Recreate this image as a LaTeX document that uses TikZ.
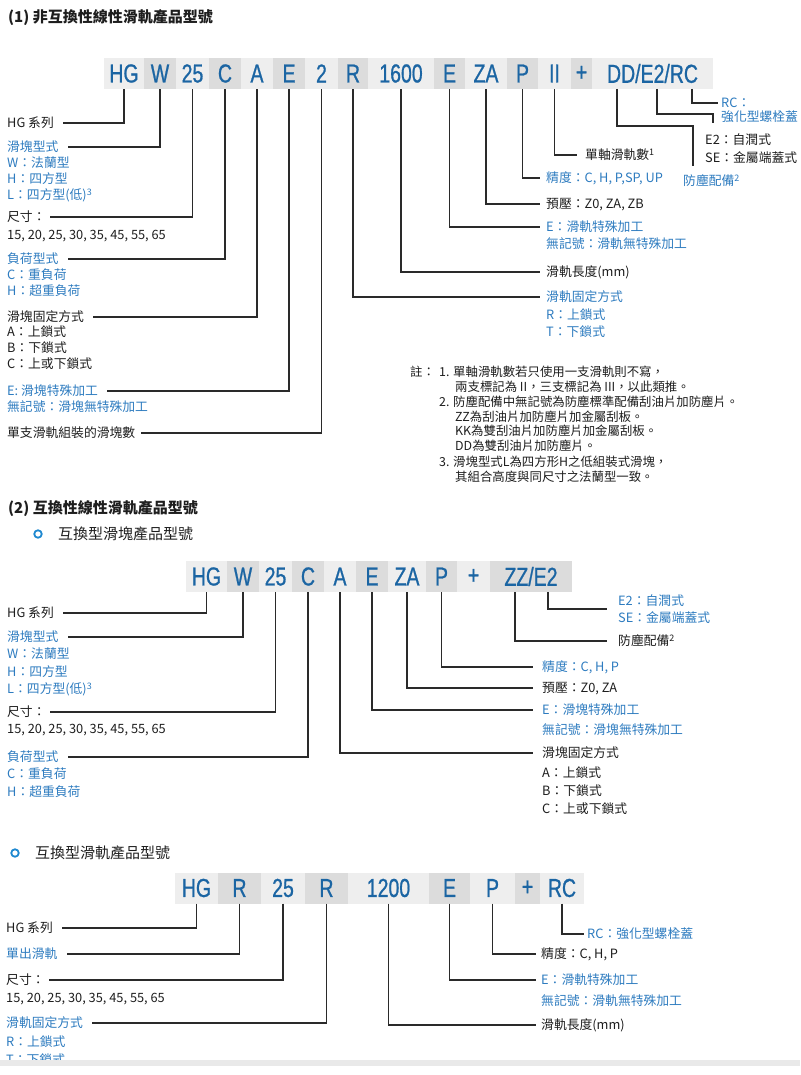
\documentclass[tikz,border=0pt]{standalone}
\usepackage{fontspec}
\setmainfont{Noto Sans CJK TC}
\newfontfamily\boxfont{Liberation Sans}[FakeStretch=0.75, FakeBold=0.8]
\usetikzlibrary{calc}
\definecolor{boxblue}{HTML}{1B65A3}
\definecolor{lblue}{HTML}{2E7CC0}
\definecolor{txtk}{HTML}{1E1E1E}
\definecolor{linec}{HTML}{2A2A2A}
\definecolor{lightg}{HTML}{EEEEEE}
\definecolor{darkg}{HTML}{DCDCDC}
\definecolor{bandg}{HTML}{E9E9E9}
\definecolor{ringblue}{HTML}{1E88D0}
\tikzset{
  lab/.style={anchor=west, inner sep=0pt, text=txtk, font=\fontsize{12.8}{14}\selectfont, text height=10.6pt, text depth=1.3pt},
  blab/.style={lab, text=lblue},
  notel/.style={anchor=west, inner sep=0pt, text=txtk, font=\fontsize{12.4}{14}\selectfont, text height=10.3pt, text depth=1.3pt},
  cellbase/.style={inner sep=0pt, minimum height=31pt, text=boxblue, font=\boxfont\fontsize{26}{26}\selectfont},
  lcell/.style={cellbase, fill=lightg},
  dcell/.style={cellbase, fill=darkg},
  conn/.style={draw=linec, line width=1.2pt},
  ttl/.style={anchor=west, inner sep=0pt, text=txtk, font=\bfseries\fontsize{15}{17}\selectfont},
  subttl/.style={anchor=west, inner sep=0pt, text=txtk, font=\fontsize{15}{17}\selectfont},
  ring/.style={draw=ringblue, line width=1.8pt, circle, minimum size=7.5pt, inner sep=0pt},
}
\begin{document}
\begin{tikzpicture}[x=1pt,y=-1pt]
\useasboundingbox (0,0) rectangle (800,1075);
\fill[white] (0,0) rectangle (800,1075);

% ================= Section 1 =================
\node[ttl] (t1) at (8,18) {(1) 非互換性線性滑軌產品型號};

\node[lcell, minimum width=40pt] (s1hg) at (124,73.5) {HG};
\node[dcell, minimum width=32pt] (s1w) at (160,73.5) {W};
\node[lcell, minimum width=33pt] (s1sz) at (192.5,73.5) {25};
\node[dcell, minimum width=32pt] (s1c) at (225,73.5) {C};
\node[lcell, minimum width=32pt] (s1a) at (257,73.5) {A};
\node[dcell, minimum width=32pt] (s1e) at (289,73.5) {E};
\node[lcell, minimum width=33pt] (s1n) at (321.5,73.5) {2};
\node[dcell, minimum width=30pt] (s1r) at (353,73.5) {R};
\node[lcell, minimum width=66pt] (s1len) at (401,73.5) {1600};
\node[dcell, minimum width=31pt] (s1re) at (449.5,73.5) {E};
\node[lcell, minimum width=42pt] (s1za) at (486,73.5) {ZA};
\node[dcell, minimum width=31pt] (s1p) at (522.5,73.5) {P};
\node[lcell, minimum width=33pt] (s1ii) at (554.5,73.5) {II};
\node[dcell, minimum width=21pt] (s1plus) at (581.5,73.5) {+};
\node[lcell, minimum width=121pt] (s1acc) at (652.5,73.5) {DD/E2/RC};

% left labels
\node[lab]  (l1hg) at (7,123) {HG 系列};
\node[blab] (l1w)  at (7,147) {滑塊型式};
\node[blab] (l1w1) at (7,163) {W：法蘭型};
\node[blab] (l1w2) at (7,179) {H：四方型};
\node[blab] (l1w3) at (7,195) {L：四方型(低)\textsuperscript{3}};
\node[lab]  (l1sz) at (7,217) {尺寸：};
\node[lab]  (l1sz1) at (7,235) {15, 20, 25, 30, 35, 45, 55, 65};
\node[blab] (l1ld) at (7,259) {負荷型式};
\node[blab] (l1ld1) at (7,275) {C：重負荷};
\node[blab] (l1ld2) at (7,291) {H：超重負荷};
\node[lab]  (l1fx) at (7,317) {滑塊固定方式};
\node[lab]  (l1fx1) at (7,332) {A：上鎖式};
\node[lab]  (l1fx2) at (7,348) {B：下鎖式};
\node[lab]  (l1fx3) at (7,364) {C：上或下鎖式};
\node[blab] (l1e)  at (7,391) {E: 滑塊特殊加工};
\node[blab] (l1e1) at (7,407) {無記號：滑塊無特殊加工};
\node[lab]  (l1n)  at (7,433) {單支滑軌組裝的滑塊數};

\draw[conn] (s1hg.south) |- ([xshift=9pt]l1hg.east);
\draw[conn] (s1w.south)  |- ([xshift=9pt]l1w.east);
\draw[conn] (s1sz.south) |- ([xshift=4pt]l1sz.east);
\draw[conn] (s1c.south)  |- ([xshift=9pt]l1ld.east);
\draw[conn] (s1a.south)  |- ([xshift=9pt]l1fx.east);
\draw[conn] (s1e.south)  |- ([xshift=9pt]l1e.east);
\draw[conn] (s1n.south)  |- ([xshift=6pt]l1n.east);

% right labels
\node[lab]  (r1ii) at (585,155) {單軸滑軌數\textsuperscript{1}};
\node[blab] (r1p)  at (546,178) {精度：C, H, P,SP, UP};
\node[lab]  (r1za) at (546,204) {預壓：Z0, ZA, ZB};
\node[blab] (r1e)  at (546,227) {E：滑軌特殊加工};
\node[blab] (r1e1) at (546,244) {無記號：滑軌無特殊加工};
\node[lab]  (r1len) at (546,272) {滑軌長度(mm)};
\node[blab] (r1r)  at (546,297) {滑軌固定方式};
\node[blab] (r1r1) at (546,315) {R：上鎖式};
\node[blab] (r1r2) at (546,332) {T：下鎖式};
\node[blab] (r1rc) at (721,103) {RC：};
\node[blab] (r1rc1) at (721,117) {強化型螺栓蓋};
\node[lab]  (r1e2) at (705,140) {E2：自潤式};
\node[lab]  (r1se) at (705,158) {SE：金屬端蓋式};
\node[blab] (r1dust) at (683,181) {防塵配備\textsuperscript{2}};

\draw[conn] (s1ii.south) |- ([xshift=-8pt]r1ii.west);
\draw[conn] (s1p.south)  |- ([xshift=-6pt]r1p.west);
\draw[conn] (s1za.south) |- ([xshift=-6pt]r1za.west);
\draw[conn] (s1re.south) |- ([xshift=-6pt]r1e.west);
\draw[conn] (s1len.south) |- ([xshift=-6pt]r1len.west);
\draw[conn] (s1r.south)  |- ([xshift=-6pt]r1r.west);

\coordinate (s1dd) at (617,89);
\coordinate (s1ee) at (657,89);
\coordinate (s1rcc) at (692,89);
\coordinate (s1ddk) at (693,126);
\coordinate (s1ddend) at (693,166);
\coordinate (s1eek) at (713,114);
\coordinate (s1eeend) at (713,123);
\draw[conn] (s1dd) |- (s1ddk) -- (s1ddend);
\draw[conn] (s1ee) |- (s1eek) -- (s1eeend);
\draw[conn] (s1rcc) |- ([xshift=-3pt]r1rc.west);

% notes
\node[notel] (nt0) at (410,372) {註：};
\node[notel] (nt1) at (439,372) {1. 單軸滑軌數若只使用一支滑軌則不寫，};
\node[notel] (nt1b) at (455,387) {兩支標記為 II，三支標記為 III，以此類推。};
\node[notel] (nt2) at (439,402) {2. 防塵配備中無記號為防塵標準配備刮油片加防塵片。};
\node[notel] (nt2b) at (455,417) {ZZ為刮油片加防塵片加金屬刮板。};
\node[notel] (nt2c) at (455,431) {KK為雙刮油片加防塵片加金屬刮板。};
\node[notel] (nt2d) at (455,446) {DD為雙刮油片加防塵片。};
\node[notel] (nt3) at (439,462) {3. 滑塊型式L為四方形H之低組裝式滑塊，};
\node[notel] (nt3b) at (455,477) {其組合高度與同尺寸之法蘭型一致。};

% ================= Section 2 =================
\node[ttl] (t2) at (8,509) {(2) 互換性線性滑軌產品型號};
\node[ring] (o2) at (38,534) {};
\node[subttl] (t2b) at (58,534) {互換型滑塊產品型號};

\node[lcell, minimum width=41pt] (s2hg) at (206.5,576.5) {HG};
\node[dcell, minimum width=32pt] (s2w) at (243,576.5) {W};
\node[lcell, minimum width=33pt] (s2sz) at (275.5,576.5) {25};
\node[dcell, minimum width=32pt] (s2c) at (308,576.5) {C};
\node[lcell, minimum width=32pt] (s2a) at (340,576.5) {A};
\node[dcell, minimum width=32pt] (s2e) at (372,576.5) {E};
\node[lcell, minimum width=38pt] (s2za) at (407,576.5) {ZA};
\node[dcell, minimum width=31pt] (s2p) at (441.5,576.5) {P};
\node[lcell, minimum width=33pt] (s2plus) at (473.5,576.5) {+};
\node[dcell, minimum width=82pt] (s2acc) at (531,576.5) {ZZ/E2};

\node[lab]  (l2hg) at (7,613) {HG 系列};
\node[blab] (l2w)  at (7,637) {滑塊型式};
\node[blab] (l2w1) at (7,654) {W：法蘭型};
\node[blab] (l2w2) at (7,672) {H：四方型};
\node[blab] (l2w3) at (7,689) {L：四方型(低)\textsuperscript{3}};
\node[lab]  (l2sz) at (7,712) {尺寸：};
\node[lab]  (l2sz1) at (7,729) {15, 20, 25, 30, 35, 45, 55, 65};
\node[blab] (l2ld) at (7,757) {負荷型式};
\node[blab] (l2ld1) at (7,774) {C：重負荷};
\node[blab] (l2ld2) at (7,792) {H：超重負荷};

\draw[conn] (s2hg.south) |- ([xshift=9pt]l2hg.east);
\draw[conn] (s2w.south)  |- ([xshift=9pt]l2w.east);
\draw[conn] (s2sz.south) |- ([xshift=4pt]l2sz.east);
\draw[conn] (s2c.south)  |- ([xshift=9pt]l2ld.east);

\node[blab] (r2e2) at (618,601) {E2：自潤式};
\node[blab] (r2se) at (618,618) {SE：金屬端蓋式};
\node[lab]  (r2dust) at (618,641) {防塵配備\textsuperscript{2}};
\node[blab] (r2p)  at (542,667) {精度：C, H, P};
\node[lab]  (r2za) at (542,688) {預壓：Z0, ZA};
\node[blab] (r2e)  at (542,710) {E：滑塊特殊加工};
\node[blab] (r2e1) at (542,730) {無記號：滑塊無特殊加工};
\node[lab]  (r2fx) at (542,753) {滑塊固定方式};
\node[lab]  (r2fx1) at (542,773) {A：上鎖式};
\node[lab]  (r2fx2) at (542,791) {B：下鎖式};
\node[lab]  (r2fx3) at (542,809) {C：上或下鎖式};

\coordinate (s2zz) at (515,592);
\coordinate (s2ee) at (548,592);
\coordinate (s2eeend) at (607,609);
\draw[conn] (s2ee) |- (s2eeend);
\draw[conn] (s2zz) |- ([xshift=-11pt]r2dust.west);
\draw[conn] (s2p.south)  |- ([xshift=-9pt]r2p.west);
\draw[conn] (s2za.south) |- ([xshift=-9pt]r2za.west);
\draw[conn] (s2e.south)  |- ([xshift=-9pt]r2e.west);
\draw[conn] (s2a.south)  |- ([xshift=-9pt]r2fx.west);

% ================= Section 3 =================
\node[ring] (o3) at (15,853) {};
\node[subttl] (t3) at (35,853) {互換型滑軌產品型號};

\node[lcell, minimum width=43pt] (s3hg) at (196.5,888) {HG};
\node[dcell, minimum width=43pt] (s3r) at (239.5,888) {R};
\node[lcell, minimum width=44pt] (s3sz) at (283,888) {25};
\node[dcell, minimum width=43pt] (s3fx) at (326.5,888) {R};
\node[lcell, minimum width=81pt] (s3len) at (388.5,888) {1200};
\node[dcell, minimum width=41pt] (s3e) at (449.5,888) {E};
\node[lcell, minimum width=45pt] (s3p) at (492.5,888) {P};
\node[dcell, minimum width=25pt] (s3plus) at (527.5,888) {+};
\node[lcell, minimum width=44pt] (s3rc) at (562,888) {RC};

\node[lab]  (l3hg) at (6,928) {HG 系列};
\node[blab] (l3r)  at (6,954) {單出滑軌};
\node[lab]  (l3sz) at (6,980) {尺寸：};
\node[lab]  (l3sz1) at (6,998) {15, 20, 25, 30, 35, 45, 55, 65};
\node[blab] (l3fx) at (6,1023) {滑軌固定方式};
\node[blab] (l3fx1) at (6,1042) {R：上鎖式};
\node[blab] (l3fx2) at (6,1060) {T：下鎖式};

\draw[conn] (s3hg.south) |- ([xshift=9pt]l3hg.east);
\draw[conn] (s3r.south)  |- ([xshift=9pt]l3r.east);
\draw[conn] (s3sz.south) |- ([xshift=4pt]l3sz.east);
\draw[conn] (s3fx.south) |- ([xshift=9pt]l3fx.east);

\node[blab] (r3rc) at (587,934) {RC：強化型螺栓蓋};
\node[lab]  (r3p)  at (541,954) {精度：C, H, P};
\node[blab] (r3e)  at (541,980) {E：滑軌特殊加工};
\node[blab] (r3e1) at (541,1001) {無記號：滑軌無特殊加工};
\node[lab]  (r3len) at (541,1025) {滑軌長度(mm)};

\draw[conn] (s3rc.south) |- ([xshift=-3pt]r3rc.west);
\draw[conn] (s3p.south)  |- ([xshift=-5pt]r3p.west);
\draw[conn] (s3e.south)  |- ([xshift=-5pt]r3e.west);
\draw[conn] (s3len.south) |- ([xshift=-5pt]r3len.west);

% bottom page edge
\fill[bandg] (0,1060) rectangle (800,1066);
\fill[white] (0,1066) rectangle (800,1075);
\end{tikzpicture}
\end{document}
